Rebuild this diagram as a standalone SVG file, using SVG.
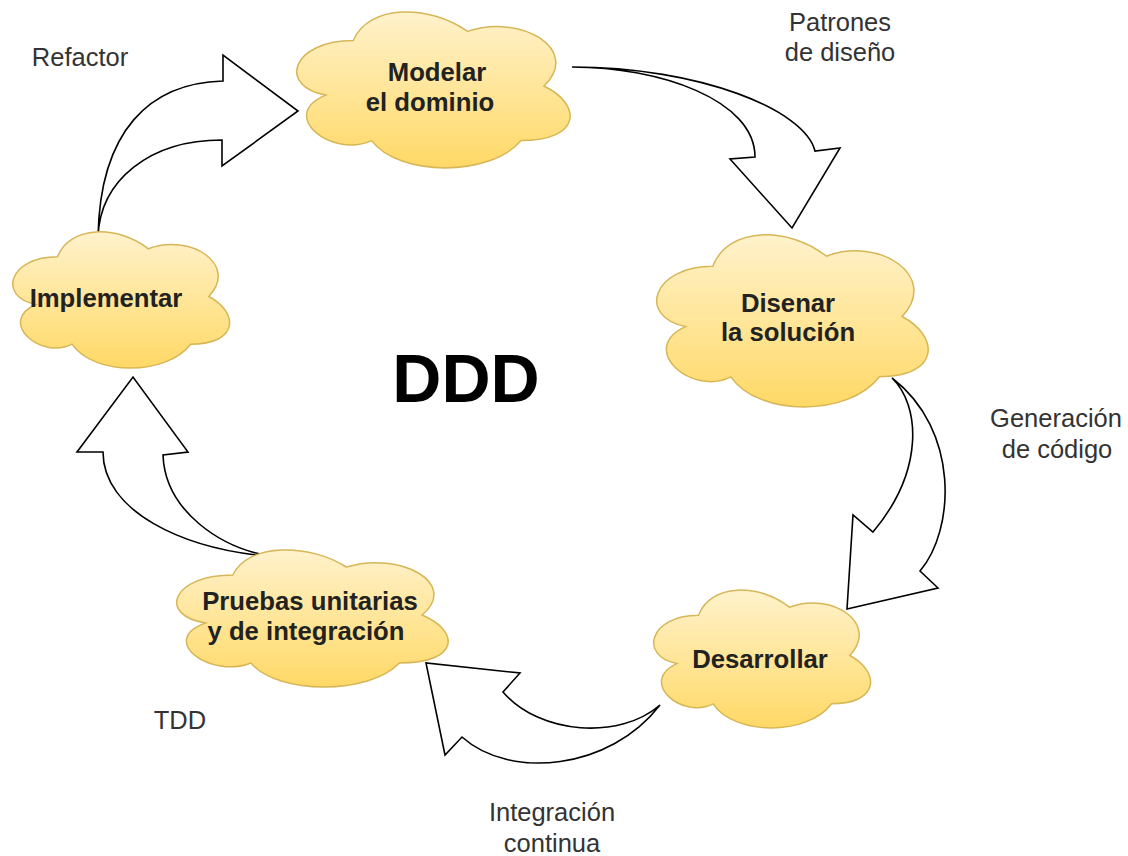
<svg xmlns="http://www.w3.org/2000/svg" width="1128" height="856" viewBox="0 0 1128 856">
  <defs>
    <linearGradient id="cloudFill" x1="0" y1="0" x2="0" y2="1">
      <stop offset="0" stop-color="#fff2cc"/>
      <stop offset="1" stop-color="#ffd966"/>
    </linearGradient>
  </defs>
  <style>
    .cloud path { fill: url(#cloudFill); stroke: #d6b656; stroke-width: 1.5; }
    .node-text { font-family: "Liberation Sans", Arial, sans-serif; font-weight: bold; font-size: 25.7px; fill: #222; text-anchor: middle; }
    .label { font-family: "Liberation Sans", Arial, sans-serif; font-size: 25.5px; fill: #333; text-anchor: middle; }
    .title { font-family: "Liberation Sans", Arial, sans-serif; font-weight: bold; font-size: 68px; fill: #000; text-anchor: middle; }
    .flow path { fill: #fff; stroke: #000; stroke-width: 1.6; stroke-linejoin: miter; }
  </style>
  <rect width="1128" height="856" fill="#fff"/>

  <!-- curved block arrows between the stages -->
  <g id="connectors" class="flow">
    <path d="M572,67 C660,67 755,100 755,157 L730,159 L792,228 L840,148 L815,151 C805,110 700,67 572,67 Z"/>
    <path d="M892,378 C920,405 925,470 873,532 L853,515 L847,609 L938,588 L920,571 C955,530 960,430 892,378 Z"/>
    <path d="M660,705 C620,740 540,735 503,692 L520,673 L426,663 L445,755 L462,737 C510,780 610,770 660,705 Z"/>
    <path d="M277,557 C220,550 165,510 163,455 L188,452 L133,377 L77,452 L103,452 C103,510 180,550 277,557 Z"/>
    <path d="M98,237 C100,180 150,140 222,140 L222,166 L298,111 L223,55 L223,81 C150,83 100,130 98,237 Z"/>
  </g>

  <g id="modelar" class="cloud">
    <path d="M353.3,40.5 C292.3,40.5 277,86 325.8,95.1 C277,115.1 331.9,158.8 371.6,140.6 C399,177 490.5,177 521,140.6 C582,140.6 582,104.2 543.9,86 C582,49.6 521,13.2 467.6,31.4 C429.5,4.1 368.5,4.1 353.3,40.5 Z"/>
    <text class="node-text" x="437" y="81">Modelar</text>
    <text class="node-text" x="430" y="111">el dominio</text>
  </g>

  <g id="disenar" class="cloud">
    <path d="M712.8,266.3 C652.2,266.3 637,316.5 685.5,326.6 C637,348.7 691.5,396.9 730.9,376.8 C758.2,417 849.1,417 879.4,376.8 C940,376.8 940,336.6 902.1,316.5 C940,276.3 879.4,236.1 826.4,256.2 C788.5,226.1 727.9,226.1 712.8,266.3 Z"/>
    <text class="node-text" x="788" y="312">Disenar</text>
    <text class="node-text" x="788" y="341">la solución</text>
  </g>

  <g id="desarrollar" class="cloud">
    <path d="M698.5,615.3 C650.1,615.3 638,655.5 676.7,663.6 C638,681.3 681.6,719.9 713,703.8 C734.8,736 807.4,736 831.6,703.8 C880,703.8 880,671.6 849.8,655.5 C880,623.3 831.6,591.1 789.3,607.2 C759,583.1 710.6,583.1 698.5,615.3 Z"/>
    <text class="node-text" x="760" y="668">Desarrollar</text>
  </g>

  <g id="pruebas" class="cloud">
    <path d="M232.8,575 C172.2,575 157,615 205.5,623 C157,640.6 211.5,679 250.9,663 C278.2,695 369.1,695 399.4,663 C460,663 460,631 422.1,615 C460,583 399.4,551 346.4,567 C308.5,543 247.9,543 232.8,575 Z"/>
    <text class="node-text" x="310" y="610">Pruebas unitarias</text>
    <text class="node-text" x="306" y="640">y de integración</text>
  </g>

  <g id="implementar" class="cloud">
    <path d="M57.5,256.8 C9.1,256.8 -3,296.5 35.7,304.5 C-3,321.9 40.6,360.1 72,344.2 C93.8,376 166.4,376 190.6,344.2 C239,344.2 239,312.4 208.8,296.5 C239,264.7 190.6,232.9 148.3,248.8 C118,225 69.6,225 57.5,256.8 Z"/>
    <text class="node-text" x="106" y="307">Implementar</text>
  </g>

  <g id="labels">
    <text class="title" x="466" y="402">DDD</text>
    <text class="label" x="80" y="66">Refactor</text>
    <text class="label" x="840" y="31">Patrones</text>
    <text class="label" x="840" y="61">de diseño</text>
    <text class="label" x="1056" y="427">Generación</text>
    <text class="label" x="1057" y="458">de código</text>
    <text class="label" x="180" y="729">TDD</text>
    <text class="label" x="552" y="821">Integración</text>
    <text class="label" x="552" y="852">continua</text>
  </g>
</svg>
